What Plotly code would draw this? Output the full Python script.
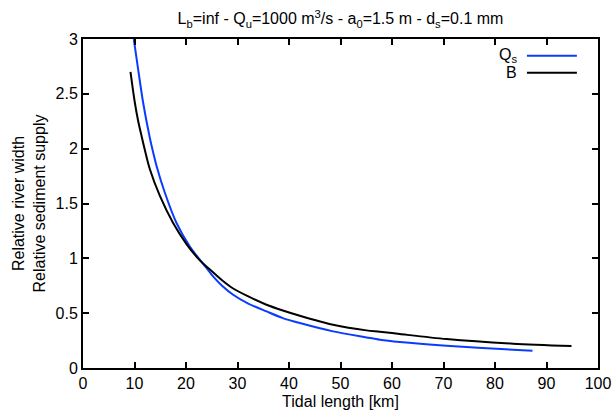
import plotly.graph_objects as go

# Relative sediment supply Qs
qs_x = [9.86, 10.7, 11.67, 12.97, 13.5, 14.27, 15.88, 18.16, 20.74, 23.98, 25.26, 27.0,
        29.15, 32.0, 35.63, 38.8, 42.1, 48.56, 55.05, 57.63, 61.51, 70.58, 83.5, 87.28]
qs_y = [3.0, 2.726, 2.421, 2.10, 1.99, 1.844, 1.60, 1.322, 1.108, 0.912, 0.835, 0.75,
        0.668, 0.59, 0.516, 0.455, 0.410, 0.334, 0.279, 0.258, 0.237, 0.203, 0.167, 0.158]

# Relative river width B
b_x = [9.22, 10.06, 10.7, 11.36, 12.0, 12.97, 14.91, 17.5, 20.1, 22.69, 24.3, 27.0,
       29.15, 32.0, 35.63, 38.8, 42.1, 48.56, 55.05, 57.63, 61.51, 70.58, 83.5, 94.85]
b_y = [2.70, 2.421, 2.255, 2.118, 1.99, 1.814, 1.571, 1.322, 1.13, 0.981, 0.912, 0.80,
       0.725, 0.655, 0.577, 0.525, 0.477, 0.395, 0.343, 0.331, 0.310, 0.264, 0.222, 0.2005]

x_ticks = [0, 10, 20, 30, 40, 50, 60, 70, 80, 90, 100]
y_ticks = [0, 0.5, 1, 1.5, 2, 2.5, 3]

BLUE = "#0a3cff"
FONT = "Liberation Sans, Arial, sans-serif"

fig = go.Figure()
fig.add_trace(go.Scatter(x=qs_x, y=qs_y, mode="lines", name="Q<sub>s</sub>",
                         line=dict(color=BLUE, width=2, shape="spline", smoothing=0.8),
                         showlegend=False))
fig.add_trace(go.Scatter(x=b_x, y=b_y, mode="lines", name="B",
                         line=dict(color="black", width=2, shape="spline", smoothing=0.8),
                         showlegend=False))

axis_common = dict(showline=True, linecolor="black", linewidth=2, mirror="ticks",
                   ticks="inside", ticklen=6, tickwidth=2, tickcolor="black",
                   showgrid=False, zeroline=False, automargin=False,
                   tickfont=dict(family=FONT, size=16, color="black"))

fig.update_xaxes(range=[0, 100], tickvals=x_ticks, ticktext=[str(v) for v in x_ticks],
                 title=dict(text="Tidal length [km]", font=dict(family=FONT, size=16, color="black"),
                            standoff=5),
                 **axis_common)
fig.update_yaxes(range=[0, 3], tickvals=y_ticks, ticktext=[("%g" % v) for v in y_ticks],
                 title=dict(text="Relative river width<br>Relative sediment supply",
                            font=dict(family=FONT, size=16, color="black"), standoff=6),
                 **axis_common)

# legend (text on left, sample line on right)
fig.add_shape(type="line", xref="paper", yref="paper", x0=0.862, x1=0.959, y0=0.949, y1=0.949,
              line=dict(color=BLUE, width=2))
fig.add_shape(type="line", xref="paper", yref="paper", x0=0.862, x1=0.959, y0=0.8976, y1=0.8976,
              line=dict(color="black", width=2))
fig.add_annotation(xref="paper", yref="paper", x=0.847, y=0.949, text="Q<sub>s</sub>",
                   showarrow=False, xanchor="right", yanchor="middle",
                   font=dict(family=FONT, size=16, color="black"))
fig.add_annotation(xref="paper", yref="paper", x=0.847, y=0.8976, text="B",
                   showarrow=False, xanchor="right", yanchor="middle",
                   font=dict(family=FONT, size=16, color="black"))

fig.update_layout(
    width=613, height=414,
    margin=dict(l=83, r=15, t=39, b=46),
    paper_bgcolor="white", plot_bgcolor="white",
    title=dict(text="L<sub>b</sub>=inf - Q<sub>u</sub>=1000 m<sup>3</sup>/s - a<sub>0</sub>=1.5 m - d<sub>s</sub>=0.1 mm",
               x=0.5, xref="paper", xanchor="center", y=0.955, yanchor="middle",
               font=dict(family=FONT, size=16, color="black")),
    font=dict(family=FONT, size=16, color="black"),
)

fig.write_html("out.html")
